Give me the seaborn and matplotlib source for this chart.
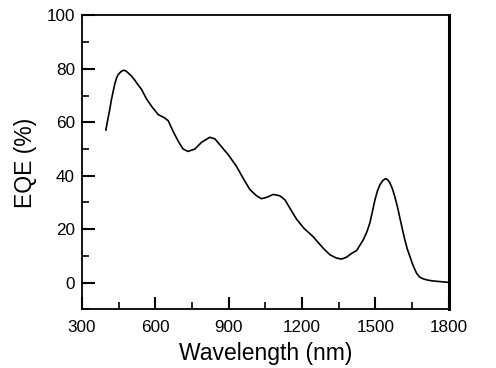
import matplotlib
matplotlib.use("Agg")
import matplotlib.pyplot as plt
import seaborn as sns
import pandas as pd
from matplotlib.ticker import MultipleLocator

wavelength = [398, 406, 414, 421, 428, 435, 442, 448, 455, 463, 472, 480, 489, 503, 517, 530,
              544, 564, 585, 612, 639, 653,
              673, 694, 714, 734, 762, 789, 823, 844, 864, 898, 932, 959, 987, 1014,
              1034, 1055, 1082, 1109, 1130, 1150, 1177, 1207, 1245, 1286, 1314, 1340,
              1361, 1382, 1400, 1423, 1450, 1465, 1477, 1488, 1498, 1508, 1518, 1530, 1541,
              1550, 1559, 1569, 1579, 1590, 1600, 1610, 1620, 1630, 1641, 1654, 1668,
              1680, 1695, 1715, 1736, 1797]
eqe = [57.0, 61.0, 64.8, 68.5, 71.6, 74.5, 76.6, 77.8, 78.5, 79.2, 79.5, 79.2, 78.5, 77.3,
       75.7, 74.0, 72.3, 68.8, 66.0, 62.9, 61.6, 60.6,
       56.6, 52.9, 50.0, 49.1, 50.0, 52.5, 54.4, 53.8, 51.6, 47.9, 43.5, 39.1, 34.8, 32.5,
       31.4, 31.9, 33.0, 32.5, 31.0, 27.9, 23.8, 20.4, 17.2, 12.9, 10.4, 9.2,
       8.8, 9.5, 10.8, 12.0, 16.0, 19.0, 22.3, 26.8, 31.0, 34.3, 36.6, 38.2, 38.9,
       38.5, 37.3, 35.2, 32.2, 28.3, 24.1, 20.0, 16.0, 12.6, 9.7, 6.3, 3.5,
       2.1, 1.4, 0.9, 0.6, 0.1]

xticks = [300, 600, 900, 1200, 1500, 1800]
yticks = [0, 20, 40, 60, 80, 100]

df = pd.DataFrame({"Wavelength": wavelength, "EQE": eqe})

sns.set_style("ticks")
plt.rcParams['font.family'] = ['Liberation Sans', 'DejaVu Sans']
plt.rcParams['text.color'] = 'black'
plt.rcParams['axes.labelcolor'] = 'black'
plt.rcParams['xtick.color'] = 'black'
plt.rcParams['ytick.color'] = 'black'

fig = plt.figure(figsize=(4.96, 3.68), dpi=100)
ax = fig.add_axes([0.165, 0.1595, 0.74, 0.7985])
sns.lineplot(data=df, x="Wavelength", y="EQE", ax=ax, color="black", linewidth=1.2)

ax.set_xlim(300, 1800)
ax.set_ylim(-10, 100)
ax.set_xticks(xticks)
ax.set_yticks(yticks)
ax.xaxis.set_minor_locator(MultipleLocator(150))
ax.yaxis.set_minor_locator(MultipleLocator(10))
ax.tick_params(which="major", direction="in", length=9, width=1.5, labelsize=12.3,
               top=False, right=False, colors="black", labelcolor="black")
ax.tick_params(which="minor", direction="in", length=5, width=1.2, top=False, right=False,
               colors="black")
ax.tick_params(axis="x", which="major", pad=8)
ax.tick_params(axis="y", which="major", pad=5)
for s in ax.spines.values():
    s.set_linewidth(1.3)
    s.set_color("black")
ax.spines["right"].set_linewidth(2.2)
ax.set_xlabel("Wavelength (nm)", fontsize=16.5, labelpad=5, color="black")
ax.set_ylabel("EQE (%)", fontsize=16.5, labelpad=7, color="black")
fig.savefig("out.png", dpi=100)
